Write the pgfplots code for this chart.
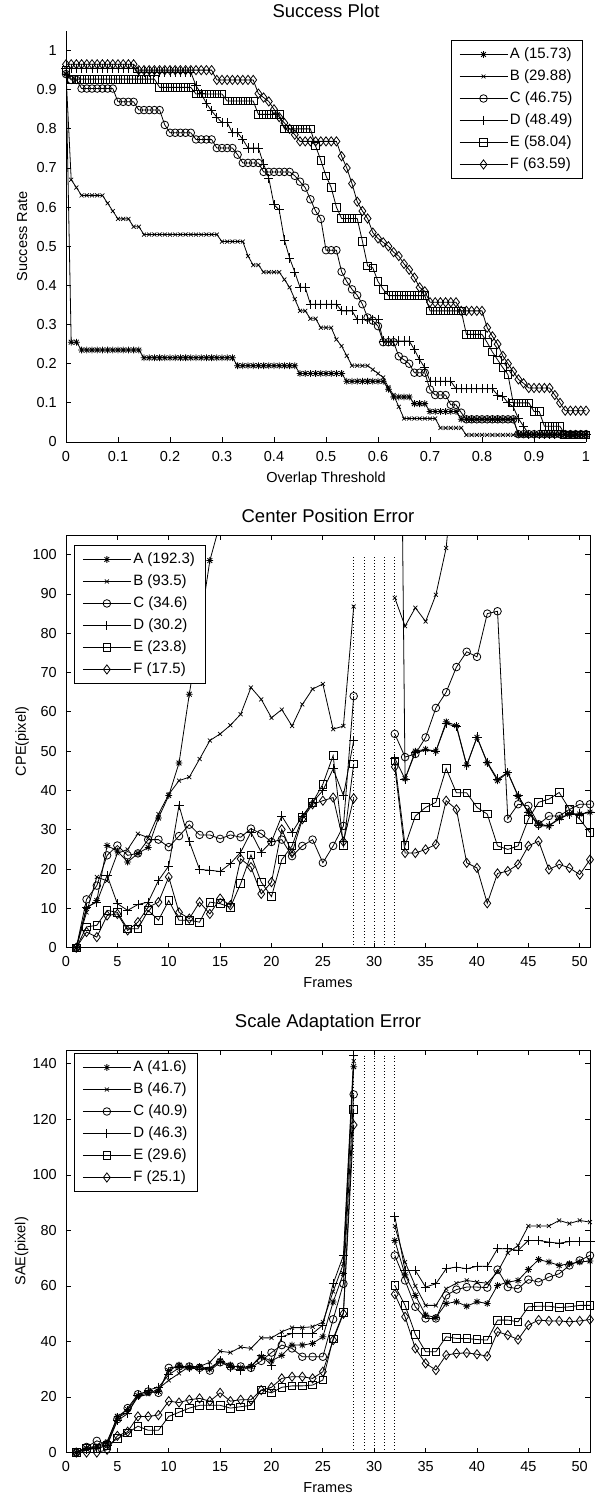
\documentclass[border=0pt]{standalone}
\usepackage{fontspec}
\setmainfont{Liberation Sans}
\usepackage{pgfplots}
\pgfplotsset{compat=1.18}
\usepackage{pgfplotstable}

\pgfdeclareplotmark{mstar}{%
  \pgfpathmoveto{\pgfqpoint{-\pgfplotmarksize}{0pt}}%
  \pgfpathlineto{\pgfqpoint{\pgfplotmarksize}{0pt}}%
  \pgfpathmoveto{\pgfqpoint{0pt}{-\pgfplotmarksize}}%
  \pgfpathlineto{\pgfqpoint{0pt}{\pgfplotmarksize}}%
  \pgfpathmoveto{\pgfqpoint{-0.707\pgfplotmarksize}{-0.707\pgfplotmarksize}}%
  \pgfpathlineto{\pgfqpoint{0.707\pgfplotmarksize}{0.707\pgfplotmarksize}}%
  \pgfpathmoveto{\pgfqpoint{-0.707\pgfplotmarksize}{0.707\pgfplotmarksize}}%
  \pgfpathlineto{\pgfqpoint{0.707\pgfplotmarksize}{-0.707\pgfplotmarksize}}%
  \pgfusepathqstroke}

\pgfplotstableread{
t A B C D E F
0.00 0.94 0.94 0.94 0.955 0.95 0.965
0.01 0.255 0.67 0.925 0.955 0.927 0.965
0.02 0.255 0.65 0.925 0.955 0.927 0.965
0.03 0.235 0.63 0.903 0.955 0.927 0.965
0.04 0.235 0.63 0.903 0.955 0.927 0.965
0.05 0.235 0.63 0.903 0.955 0.927 0.965
0.06 0.235 0.63 0.903 0.955 0.927 0.965
0.07 0.235 0.63 0.903 0.955 0.927 0.965
0.08 0.235 0.61 0.903 0.955 0.927 0.965
0.09 0.235 0.59 0.903 0.955 0.927 0.965
0.10 0.235 0.57 0.869 0.955 0.927 0.965
0.11 0.235 0.57 0.869 0.955 0.927 0.965
0.12 0.235 0.57 0.869 0.955 0.927 0.965
0.13 0.235 0.55 0.869 0.955 0.927 0.965
0.14 0.235 0.55 0.848 0.945 0.927 0.95
0.15 0.215 0.53 0.848 0.945 0.927 0.95
0.16 0.215 0.53 0.848 0.945 0.927 0.95
0.17 0.215 0.53 0.848 0.945 0.927 0.95
0.18 0.215 0.53 0.848 0.945 0.906 0.95
0.19 0.215 0.53 0.81 0.945 0.906 0.95
0.20 0.215 0.53 0.79 0.945 0.906 0.95
0.21 0.215 0.53 0.79 0.945 0.906 0.95
0.22 0.215 0.53 0.79 0.945 0.906 0.95
0.23 0.215 0.53 0.79 0.945 0.906 0.95
0.24 0.215 0.53 0.79 0.945 0.906 0.95
0.25 0.215 0.53 0.773 0.91 0.889 0.95
0.26 0.215 0.53 0.773 0.89 0.889 0.95
0.27 0.215 0.53 0.773 0.865 0.889 0.95
0.28 0.215 0.53 0.773 0.846 0.889 0.95
0.29 0.215 0.53 0.751 0.83 0.889 0.925
0.30 0.215 0.512 0.751 0.816 0.889 0.925
0.31 0.215 0.512 0.751 0.816 0.871 0.925
0.32 0.215 0.512 0.751 0.79 0.871 0.925
0.33 0.195 0.512 0.734 0.79 0.871 0.925
0.34 0.195 0.512 0.713 0.773 0.871 0.925
0.35 0.195 0.475 0.713 0.751 0.871 0.925
0.36 0.195 0.452 0.713 0.751 0.871 0.925
0.37 0.195 0.452 0.713 0.751 0.837 0.89
0.38 0.195 0.434 0.69 0.71 0.837 0.88
0.39 0.195 0.434 0.69 0.674 0.837 0.87
0.40 0.195 0.434 0.69 0.606 0.837 0.85
0.41 0.195 0.434 0.69 0.593 0.837 0.83
0.42 0.195 0.415 0.69 0.516 0.80 0.815
0.43 0.195 0.395 0.69 0.47 0.80 0.80
0.44 0.195 0.365 0.68 0.434 0.80 0.785
0.45 0.175 0.335 0.665 0.395 0.80 0.768
0.46 0.175 0.335 0.65 0.395 0.80 0.768
0.47 0.175 0.315 0.62 0.352 0.80 0.768
0.48 0.175 0.315 0.59 0.352 0.756 0.768
0.49 0.175 0.292 0.57 0.352 0.72 0.768
0.50 0.175 0.292 0.49 0.352 0.68 0.768
0.51 0.175 0.292 0.49 0.352 0.65 0.768
0.52 0.175 0.262 0.49 0.352 0.60 0.768
0.53 0.175 0.245 0.435 0.335 0.571 0.73
0.54 0.155 0.22 0.41 0.335 0.571 0.70
0.55 0.155 0.195 0.39 0.335 0.571 0.66
0.56 0.155 0.195 0.375 0.313 0.571 0.614
0.57 0.155 0.195 0.352 0.313 0.513 0.59
0.58 0.155 0.195 0.318 0.313 0.45 0.571
0.59 0.155 0.185 0.31 0.313 0.445 0.535
0.60 0.155 0.175 0.296 0.313 0.41 0.52
0.61 0.155 0.165 0.255 0.258 0.39 0.51
0.62 0.135 0.14 0.255 0.258 0.374 0.50
0.63 0.115 0.12 0.255 0.258 0.374 0.485
0.64 0.115 0.09 0.219 0.258 0.374 0.475
0.65 0.115 0.06 0.21 0.258 0.374 0.455
0.66 0.115 0.06 0.20 0.258 0.374 0.44
0.67 0.098 0.06 0.177 0.236 0.374 0.42
0.68 0.098 0.06 0.177 0.21 0.374 0.395
0.69 0.098 0.06 0.177 0.19 0.374 0.385
0.70 0.078 0.06 0.134 0.155 0.335 0.357
0.71 0.078 0.06 0.12 0.155 0.335 0.357
0.72 0.078 0.036 0.12 0.155 0.335 0.357
0.73 0.078 0.036 0.12 0.155 0.335 0.357
0.74 0.078 0.036 0.095 0.155 0.335 0.357
0.75 0.078 0.036 0.095 0.136 0.335 0.357
0.76 0.058 0.036 0.075 0.136 0.335 0.335
0.77 0.058 0.018 0.058 0.136 0.275 0.335
0.78 0.058 0.018 0.058 0.136 0.275 0.335
0.79 0.058 0.018 0.058 0.136 0.275 0.335
0.80 0.058 0.018 0.058 0.136 0.275 0.335
0.81 0.058 0.018 0.058 0.136 0.254 0.292
0.82 0.058 0.018 0.058 0.136 0.23 0.27
0.83 0.058 0.018 0.058 0.12 0.21 0.25
0.84 0.058 0.018 0.058 0.117 0.19 0.22
0.85 0.058 0.018 0.058 0.10 0.172 0.20
0.86 0.058 0.018 0.058 0.09 0.10 0.18
0.87 0.02 0.018 0.02 0.06 0.10 0.16
0.88 0.02 0.018 0.02 0.04 0.10 0.15
0.89 0.02 0.018 0.02 0.02 0.10 0.138
0.90 0.02 0.018 0.02 0.02 0.078 0.138
0.91 0.02 0.018 0.02 0.02 0.078 0.138
0.92 0.02 0.018 0.02 0.02 0.04 0.138
0.93 0.02 0.018 0.02 0.02 0.04 0.138
0.94 0.02 0.018 0.02 0.02 0.04 0.12
0.95 0.02 0.018 0.02 0.02 0.04 0.10
0.96 0.02 0.018 0.02 0.02 0.018 0.08
0.97 0.02 0.018 0.02 0.02 0.018 0.08
0.98 0.02 0.018 0.02 0.02 0.018 0.08
0.99 0.02 0.018 0.02 0.02 0.018 0.08
1.00 0.02 0.018 0.02 0.02 0.018 0.08
}\succtab

\pgfplotstableread{
f A B C D E F
1 0 0 0 0 0 0
2 10 9 12.3 10.3 5.3 4
3 12 18 15.8 11.6 5.7 2.7
4 26 17 23.5 18.4 9.5 8.2
5 24.6 24 26 11.2 9 8.6
6 21.8 25 23.5 9.5 4.8 4.4
7 24 29 24 11 4.8 6.5
8 25.5 28 27.5 11.6 9.5 10.3
9 33 34 27.5 17.1 7 11.6
10 38.7 39 25.6 20.8 12 18
11 47 42.5 28.4 36.2 7 9
12 64.5 43.4 31.3 27 7 7.4
13 81 48 28.7 19.9 6.5 11.6
14 98.5 52.7 28.7 19.7 11.6 8.6
15 108 54.4 27.7 19.4 11.2 12.5
16 300 56.6 28.7 21.4 10.3 10.8
17 300 59.4 28.1 24.3 16.3 22.6
18 300 66.2 30.3 29.4 23.6 20.5
19 300 63.2 29 24.3 16.7 13.7
20 300 58.5 26.9 27 13 16.7
21 300 60.6 27.5 33.5 22.4 30.1
22 300 56.4 23.3 29.3 25.9 24.1
23 300 61.9 25.9 33.5 33.1 32.7
24 300 65.8 27.5 37 37 36.5
25 300 67.1 21.6 40 41.6 37.4
26 300 55.6 25.9 45.5 48.9 38.2
27 300 56.4 31 38.7 26 27
28 300 86.8 64 52.7 46.8 38
29 nan nan nan nan nan nan
30 nan nan nan nan nan nan
31 nan nan nan nan nan nan
32 300 89 54.4 48.2 47.5 46
33 43 81.8 48.5 42.9 26 24.1
34 50 86.5 49.3 49.7 33.5 24.1
35 50.5 83 53.5 50.2 35.7 25
36 50 89.8 61 50 37 26.3
37 57.5 101.7 65 57 45.6 37.4
38 56.5 130 71.4 56.2 39.4 35.2
39 46.5 170 75.3 46.3 39.4 21.6
40 53.5 200 74 53.6 35.7 20.3
41 47 200 85 47.2 34 11.3
42 42.5 200 85.6 42.9 25.9 18.9
43 44.5 200 32.8 44.6 25 19.5
44 38.5 200 36.5 38.7 25.9 21.2
45 34.5 200 36.1 34.4 32.7 25.9
46 31.5 200 31.4 31 37 27.1
47 31 200 33.5 31 37.8 19.9
48 33 200 33.5 32.7 39.5 21.2
49 34 200 35.2 34 35.2 20.3
50 34 200 36.5 34 32.7 18.6
51 34.5 200 36.5 34.4 29.3 22.4
}\cpetab

\pgfplotstableread{
f A B C D E F
1 0 0 0 0 0 0
2 1.5 1.5 2 1 1.5 0
3 2 2.5 4.2 1.5 1.5 0
4 3.5 4 3 2.5 2.5 1
5 13 12.5 12 11.5 5 6
6 15.5 14.5 16 14 7 7.5
7 20.5 20 21 20.5 9.5 13
8 21.5 21 22 22.5 8 13
9 22 23 21.5 23.5 8 13.5
10 29.5 26 30.5 28 13 18.5
11 31.5 28.5 31 30.5 14.5 18
12 30.5 31 31 30.5 16 19
13 31 31 30.5 30 17 19.5
14 30 32.5 29.5 30.5 17 18.5
15 33 36.5 32.5 33 17 21.5
16 31.5 36 31 30.5 16 18.5
17 30.5 38 31 29.5 16.5 19
18 31 37.5 30.5 31 17 19
19 34.5 41.3 33 35 22.5 22.5
20 33 41.3 36 31.5 21.5 23.5
21 35 43.5 38.7 41.7 23.5 26.7
22 38.7 45 37.5 42.9 24 27.3
23 38.7 45 34.5 42.9 24 27.3
24 39.3 45.3 34.5 42.9 24.3 26.7
25 41.7 47 34.5 45.9 26.1 29.1
26 54.2 58 48 60.8 41 40.5
27 64.5 68 60.8 71 50.5 50
28 139 141 129 143 123.5 118
29 nan nan nan nan nan nan
30 nan nan nan nan nan nan
31 nan nan nan nan nan nan
32 76.4 81.6 71 85.1 60.2 57
33 64 68.6 62 65.6 53 48.9
34 56.6 60 52.5 65.6 42.6 37.5
35 49.5 53 48.3 59.6 36.3 32.1
36 48.6 53 48.3 60.8 36.3 29.7
37 53.7 59 56.6 66.2 41.7 35.1
38 54.3 61 58.7 66.8 41.1 35.7
39 52.7 62 59.6 66.2 41.1 35.9
40 54.3 61.4 59.6 67.1 40.7 35.4
41 53.7 61 59.4 67.1 40.5 34.7
42 60.2 65 65.9 73.4 47.7 43.5
43 61.4 71.9 59.6 73.4 47.7 42.3
44 62 74.6 59 72.8 47.1 40.7
45 65.9 81.6 62.3 76.4 52.5 45.9
46 69.5 81.6 61.4 76.4 52.7 47.7
47 68.6 81.6 63.2 75.8 52.7 47.4
48 67.4 83.6 64.4 75.4 52.2 47.4
49 68 82.5 67.4 76 52.5 47.1
50 68.6 83.6 69.2 76 53 47.4
51 69 83 71 76 53 47.9
}\saetab

\newcommand{\tickfont}{\fontsize{14.5}{17}\selectfont}
\newcommand{\legfont}{\fontsize{15}{17}\selectfont}
\newcommand{\titlefont}{\fontsize{18.5}{22}\selectfont}

\pgfplotsset{
  base/.style={
    scale only axis,
    anchor=south west,
    clip=true,
    unbounded coords=jump,
    tick align=inside,
    major tick length=5pt,
    tick style={black, line width=0.8pt},
    axis line style={black, line width=0.9pt},
    every tick label/.append style={font=\tickfont},
    /pgf/number format/assume math mode=true,
    label style={font=\tickfont},
    title style={font=\titlefont, anchor=base},
    xticklabel style={anchor=base, yshift=-19pt},
    yticklabel style={anchor=east, inner sep=0pt, xshift=-9pt},
    xlabel style={at={(0.5,0)}, anchor=base, yshift=-40pt},
    legend cell align=left,
    legend image code/.code={%
      \draw[mark repeat=2, mark phase=2, #1] plot coordinates {(0pt,0pt) (24pt,0pt) (48pt,0pt)};},
    legend style={draw=black, line width=0.9pt, fill=white, font=\legfont,
      inner xsep=8pt, inner ysep=3pt, row sep=0pt,
      nodes={inner xsep=2pt, inner ysep=4pt, text height=11pt, text depth=3pt}},
  },
  sA/.style={black, line width=0.8pt, mark=mstar, mark size=3.4pt, mark options={solid, line width=0.8pt}},
  sB/.style={black, line width=0.8pt, mark=x, mark size=2.8pt, mark options={solid, line width=0.7pt}},
  sC/.style={black, line width=0.8pt, mark=o, mark size=3.8pt, mark options={solid, line width=0.8pt}},
  sD/.style={black, line width=0.8pt, mark=+, mark size=4.6pt, mark options={solid, line width=0.8pt}},
  sE/.style={black, line width=0.8pt, mark=square, mark size=3.8pt, mark options={solid, line width=0.8pt}},
  sF/.style={black, line width=0.8pt, mark=diamond, mark size=4.6pt, mark options={solid, line width=0.8pt}},
  vdot/.style={forget plot, black, line width=0.8pt, dash pattern=on 0.8pt off 2.4pt},
}

\begin{document}
\begin{tikzpicture}
\useasboundingbox (0,0) rectangle (601pt,-1495pt);

% ---------------- Success plot ----------------
\begin{axis}[base,
  at={(66pt,-442pt)},
  width=520pt, height=411pt,
  xmin=0, xmax=1, ymin=0, ymax=1.05,
  axis x line*=bottom, axis y line*=left,
  xtick={0,0.1,0.2,0.3,0.4,0.5,0.6,0.7,0.8,0.9,1},
  ytick={0,0.1,0.2,0.3,0.4,0.5,0.6,0.7,0.8,0.9,1},
  xticklabels={0,0.1,0.2,0.3,0.4,0.5,0.6,0.7,0.8,0.9,1},
  yticklabels={0,0.1,0.2,0.3,0.4,0.5,0.6,0.7,0.8,0.9,1},
  title={Success Plot},
  title style={at={(0.5,1)}, yshift=7pt},
  xlabel={Overlap Threshold},
  ylabel={Success Rate},
  ylabel style={at={(-0.075,0.5)}, anchor=base, rotate=0},
  legend style={at={(0.994,0.978)}, anchor=north east},
]
\addplot[sA] table[x=t, y=A] {\succtab};
\addplot[sB] table[x=t, y=B] {\succtab};
\addplot[sC] table[x=t, y=C] {\succtab};
\addplot[sD] table[x=t, y=D] {\succtab};
\addplot[sE] table[x=t, y=E] {\succtab};
\addplot[sF] table[x=t, y=F] {\succtab};
\legend{A (15.73), B (29.88), C (46.75), D (48.49), E (58.04), F (63.59)}
\end{axis}

% ---------------- Center position error ----------------
\begin{axis}[base,
  at={(66pt,-947.7pt)},
  width=524pt, height=412.7pt,
  xmin=0, xmax=51, ymin=0, ymax=105,
  xtick={0,5,...,50},
  ytick={0,10,...,100},
  title={Center Position Error},
  title style={at={(0.5,1)}, yshift=7pt},
  xlabel={Frames},
  ylabel={CPE(pixel)},
  ylabel style={at={(-0.0765,0.5)}, anchor=base, rotate=0},
  legend style={at={(0.0153,0.9758)}, anchor=north west},
]
\addplot[sA] table[x=f, y=A] {\cpetab};
\addplot[sB] table[x=f, y=B] {\cpetab};
\addplot[sC] table[x=f, y=C] {\cpetab};
\addplot[sD] table[x=f, y=D] {\cpetab};
\addplot[sE] table[x=f, y=E] {\cpetab};
\addplot[sF] table[x=f, y=F] {\cpetab};
\addplot[vdot] coordinates {(28,0) (28,100)};
\addplot[vdot] coordinates {(29,0) (29,100)};
\addplot[vdot] coordinates {(30,0) (30,100)};
\addplot[vdot] coordinates {(31,0) (31,100)};
\addplot[vdot] coordinates {(32,0) (32,100)};
\legend{A (192.3), B (93.5), C (34.6), D (30.2), E (23.8), F (17.5)}
\end{axis}

% ---------------- Scale adaptation error ----------------
\begin{axis}[base,
  at={(66pt,-1452.5pt)},
  width=524pt, height=402.5pt,
  xmin=0, xmax=51, ymin=0, ymax=145,
  xtick={0,5,...,50},
  ytick={0,20,...,140},
  title={Scale Adaptation Error},
  title style={at={(0.5,1)}, yshift=17pt},
  xlabel={Frames},
  ylabel={SAE(pixel)},
  ylabel style={at={(-0.0773,0.5)}, anchor=base, rotate=0},
  legend style={at={(0.0153,0.9925)}, anchor=north west},
]
\addplot[sA] table[x=f, y=A] {\saetab};
\addplot[sB] table[x=f, y=B] {\saetab};
\addplot[sC] table[x=f, y=C] {\saetab};
\addplot[sD] table[x=f, y=D] {\saetab};
\addplot[sE] table[x=f, y=E] {\saetab};
\addplot[sF] table[x=f, y=F] {\saetab};
\addplot[vdot] coordinates {(28,0) (28,143)};
\addplot[vdot] coordinates {(29,0) (29,143)};
\addplot[vdot] coordinates {(30,0) (30,143)};
\addplot[vdot] coordinates {(31,0) (31,143)};
\addplot[vdot] coordinates {(32,0) (32,143)};
\legend{A (41.6), B (46.7), C (40.9), D (46.3), E (29.6), F (25.1)}
\end{axis}
\end{tikzpicture}
\end{document}
